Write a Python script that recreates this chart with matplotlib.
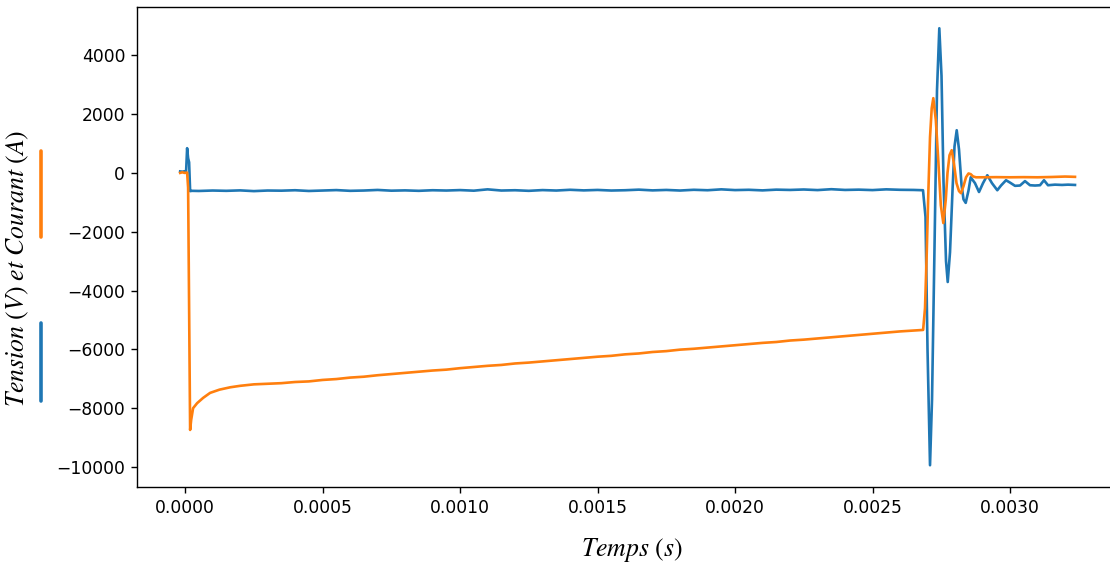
import numpy as np
import matplotlib
matplotlib.use("Agg")
import matplotlib.pyplot as plt
from matplotlib.lines import Line2D

# current (blue) -- time in s, value in A
t_blue = [-0.000018, -0.000010, -0.000002, 0.0000036, 0.0000073, 0.0000109, 0.0000145, 0.0000182, 0.000025,
          0.00005, 0.00010, 0.00015, 0.00020, 0.00025, 0.00030, 0.00035, 0.00040, 0.00045, 0.00050,
          0.00055, 0.00060, 0.00065, 0.00070, 0.00075, 0.00080, 0.00085, 0.00090, 0.00095, 0.00100,
          0.00105, 0.00110, 0.00115, 0.00120, 0.00125, 0.00130, 0.00135, 0.00140, 0.00145, 0.00150,
          0.00155, 0.00160, 0.00165, 0.00170, 0.00175, 0.00180, 0.00185, 0.00190, 0.00195, 0.00200,
          0.00205, 0.00210, 0.00215, 0.00220, 0.00225, 0.00230, 0.00235, 0.00240, 0.00245, 0.00250,
          0.00255, 0.00260, 0.00265,
          0.0026836, 0.0026927, 0.0027000, 0.0027091, 0.0027164, 0.0027255, 0.0027345, 0.0027429,
          0.0027509, 0.0027582, 0.0027673, 0.0027735, 0.0027818, 0.0027909, 0.0027982, 0.0028062,
          0.0028145, 0.0028236, 0.0028309, 0.0028389, 0.0028491, 0.0028571, 0.0028727, 0.0028873,
          0.0029018, 0.0029175, 0.0029345, 0.0029538, 0.0029673, 0.0029855, 0.0030000, 0.0030182,
          0.0030364, 0.0030545, 0.0030727, 0.0030909, 0.0031091, 0.0031236, 0.0031382, 0.0031636,
          0.0031891, 0.0032109, 0.0032364]
v_blue = [50, 40, 55, 50, 840, 500, 360, -620, -610,
          -615, -600, -610, -595, -620, -600, -605, -590, -615, -600,
          -585, -610, -600, -580, -605, -595, -610, -590, -600, -585,
          -605, -560, -600, -590, -610, -585, -600, -575, -595, -580,
          -600, -590, -570, -595, -580, -600, -575, -590, -560, -585,
          -575, -595, -570, -580, -565, -585, -555, -580, -570, -585,
          -560, -575, -580,
          -590, -1500, -6000, -9940, -7700, -2500, 2800, 4917,
          3300, -300, -3000, -3710, -2700, -600, 900, 1450,
          800, -400, -900, -1020, -600, -150, -350, -650,
          -350, -80, -350, -590, -430, -250, -330, -440,
          -430, -280, -420, -430, -420, -250, -420, -400,
          -410, -400, -410]

# voltage (orange) -- time in s, value in V
t_orange = [-0.000018, -0.000010, -0.000002, 0.0000073, 0.0000109, 0.0000182, 0.000022, 0.000029,
            0.0000436, 0.0000655, 0.0000909, 0.000125, 0.000164, 0.00020, 0.00025,
            0.00030, 0.00035, 0.00040, 0.00045, 0.00050, 0.00055, 0.00060, 0.00065, 0.00070,
            0.00075, 0.00080, 0.00085, 0.00090, 0.00095, 0.00100, 0.00105, 0.00110, 0.00115,
            0.00120, 0.00125, 0.00130, 0.00135, 0.00140, 0.00145, 0.00150, 0.00155, 0.00160,
            0.00165, 0.00170, 0.00175, 0.00180, 0.00185, 0.00190, 0.00195, 0.00200, 0.00205,
            0.00210, 0.00215, 0.00220, 0.00225, 0.00230, 0.00235, 0.00240, 0.00245, 0.00250,
            0.00255, 0.00260, 0.00265, 0.0026840,
            0.0026909, 0.0026971, 0.0027029, 0.0027091, 0.0027153, 0.0027211, 0.0027302, 0.0027393,
            0.0027484, 0.0027575, 0.0027665, 0.0027727, 0.0027800, 0.0027880, 0.0027964, 0.0028055,
            0.0028145, 0.0028218, 0.0028309, 0.0028400, 0.0028491, 0.0028571, 0.0028655, 0.0028764,
            0.00290, 0.00295, 0.00300, 0.00305, 0.00310, 0.00315, 0.00320, 0.00322, 0.0032364]
v_orange = [0, 20, 0, 10, -500, -8740, -8400, -8000,
            -7830, -7650, -7480, -7370, -7290, -7240, -7190,
            -7170, -7150, -7110, -7090, -7040, -7010, -6960, -6930, -6880,
            -6840, -6800, -6760, -6720, -6690, -6640, -6600, -6560, -6530,
            -6480, -6450, -6410, -6370, -6330, -6290, -6250, -6220, -6170,
            -6140, -6090, -6060, -6010, -5980, -5940, -5900, -5860, -5820,
            -5780, -5750, -5700, -5670, -5630, -5590, -5550, -5510, -5470,
            -5430, -5390, -5360, -5340,
            -4600, -2740, -700, 1210, 2200, 2540, 1800, 400,
            -1100, -1706, -900, 0, 600, 770, 300, -350,
            -620, -690, -450, -150, -20, -44, -120, -150,
            -150, -145, -150, -145, -150, -140, -125, -130, -135]

W, H = 1110, 564
fig = plt.figure(figsize=(W / 100, H / 100), dpi=100)
# the original picture is cut at the right, so the axes run past the figure edge
ax = fig.add_axes([137 / W, (H - 487) / H, (1200 - 137) / W, (487 - 7) / H])

ax.plot(t_blue, v_blue, color="#1f77b4", lw=1.9)
ax.plot(t_orange, v_orange, color="#ff7f0e", lw=1.9)

ax.set_xlim(-0.000175, 0.003691)
ax.set_ylim(-10680, 5640)
ax.set_xticks([0.0, 0.0005, 0.0010, 0.0015, 0.0020, 0.0025, 0.0030])
ax.set_xticklabels(["0.0000", "0.0005", "0.0010", "0.0015", "0.0020", "0.0025", "0.0030"])
ax.set_yticks(np.arange(-10000, 4001, 2000))
ax.tick_params(labelsize=12.3, length=4.5, width=1.0, pad=4)
for sp in ax.spines.values():
    sp.set_linewidth(1.0)
ax.spines["right"].set_visible(False)

plt.rcParams["mathtext.fontset"] = "stix"
fig.text(632 / W, 1 - 550 / H, r"$Temps\ (s)$", fontsize=18.5, ha="center", va="center")
fig.text(18 / W, 1 - 268 / H, r"$Tension\ (V)\ et\ Courant\ (A)$", fontsize=18.5,
         rotation=90, ha="center", va="center")

# coloured markers beside the y label
fig.add_artist(Line2D([41 / W, 41 / W], [1 - 151 / H, 1 - 237 / H], color="#ff7f0e", lw=2.6,
                      solid_capstyle="round"))
fig.add_artist(Line2D([41 / W, 41 / W], [1 - 323 / H, 1 - 401 / H], color="#1f77b4", lw=2.6,
                      solid_capstyle="round"))

fig.savefig("out.png", dpi=100)
